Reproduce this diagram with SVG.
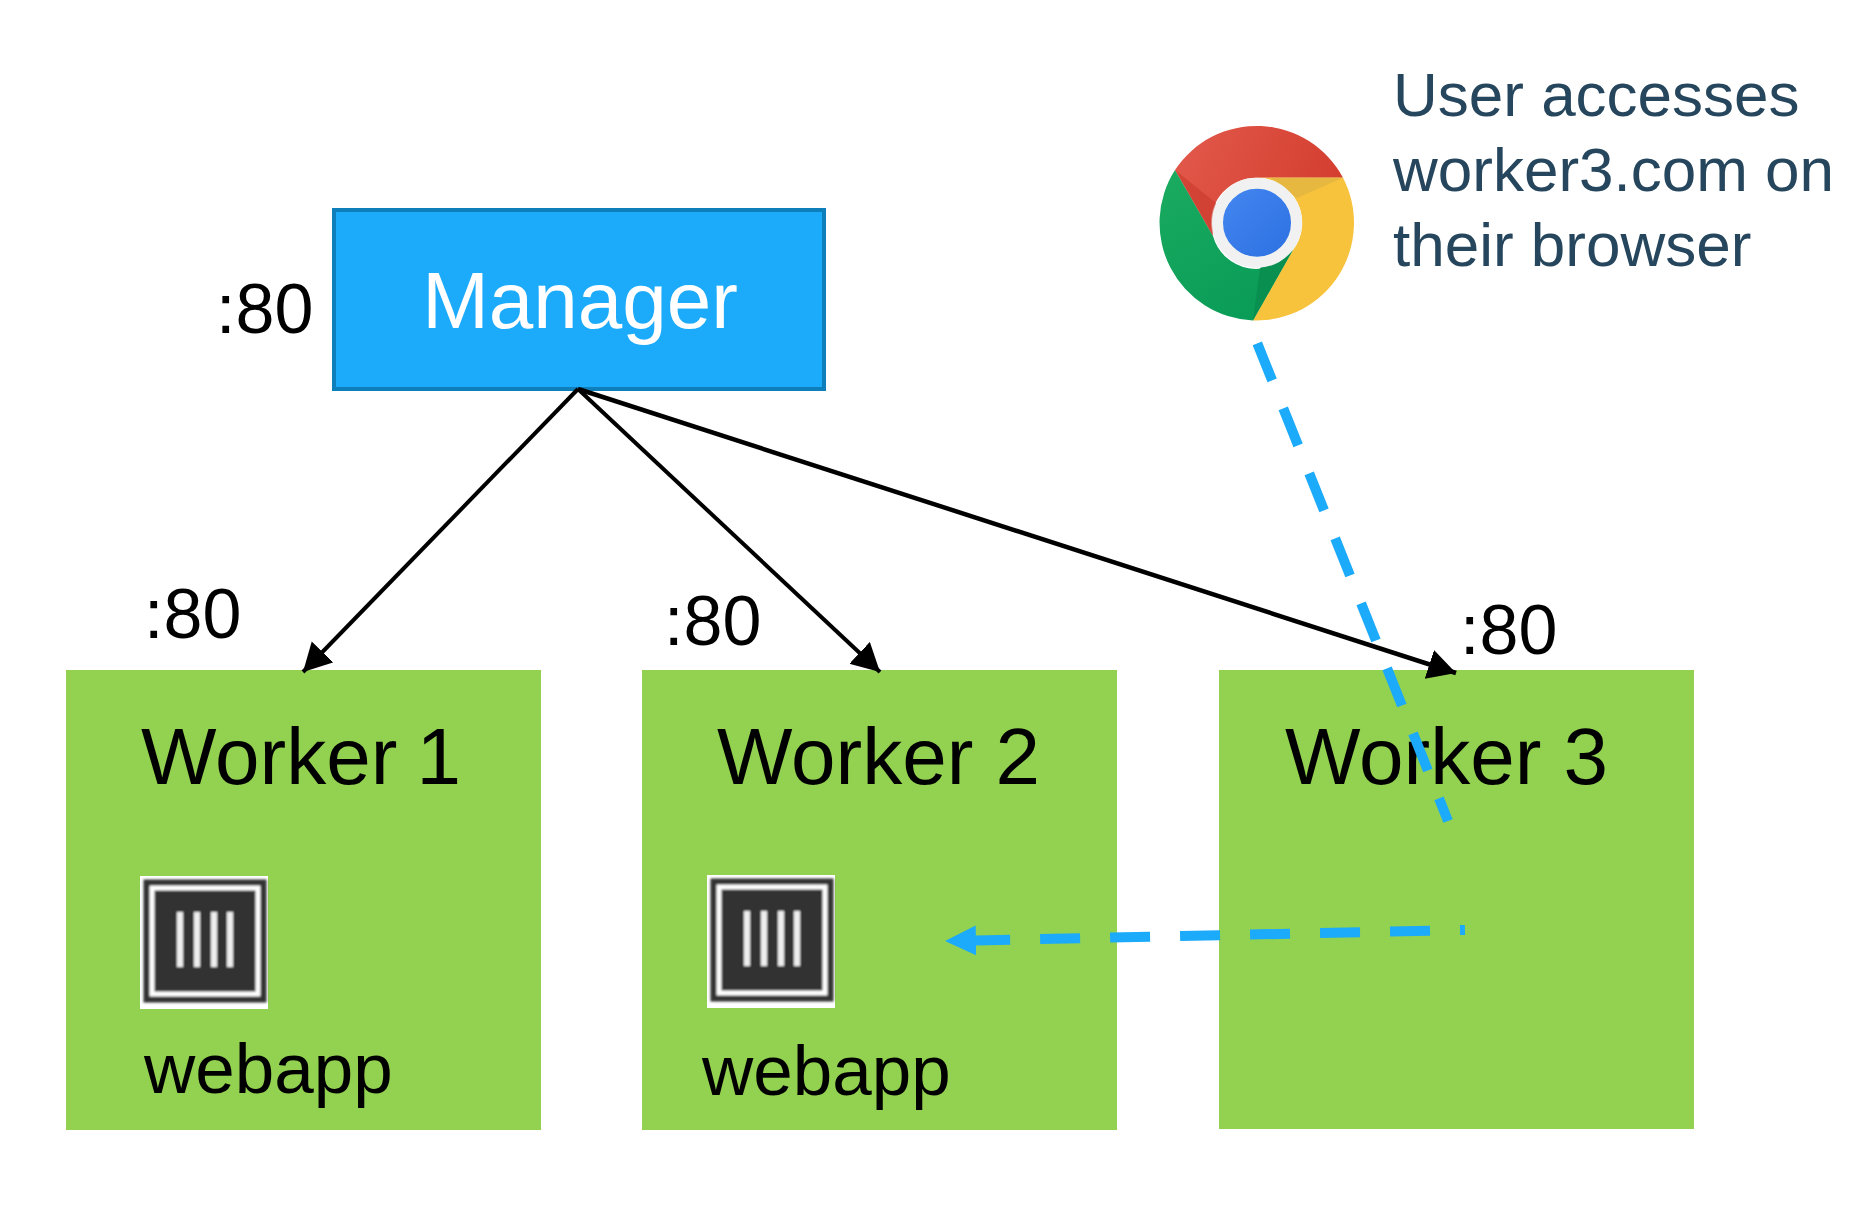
<svg xmlns="http://www.w3.org/2000/svg" width="1874" height="1216" viewBox="0 0 1874 1216">
<style>
text{font-family:"Liberation Sans",Arial,sans-serif;fill:#000}
.t80{font-size:80px}
.t70{font-size:70px}
.t71{font-size:71px}
.u{font-size:62px;fill:#26465d}
.worker{fill:#92d250}
.arrow{stroke:#000;stroke-width:4;fill:none;marker-end:url(#ah)}
.dash{stroke:#1caafa;stroke-width:10;fill:none;stroke-dasharray:40 30}
</style>
<defs>
<marker id="ah" markerUnits="userSpaceOnUse" markerWidth="32" markerHeight="32" refX="28" refY="15" orient="auto"><path d="M0 0L28 15L0 30Z" fill="#000"/></marker>
<marker id="bh" markerUnits="userSpaceOnUse" markerWidth="32" markerHeight="36" refX="0" refY="17" orient="auto"><path d="M0 2L31 17L0 32Z" fill="#1caafa"/></marker>
<filter id="soft" x="-5%" y="-5%" width="110%" height="110%"><feGaussianBlur stdDeviation="1"/></filter>
<linearGradient id="gr" x1="0" y1="0" x2="1" y2="0.3"><stop offset="0" stop-color="#e25a4c"/><stop offset="1" stop-color="#d43f30"/></linearGradient>
<linearGradient id="gg" x1="0" y1="0" x2="0.5" y2="1"><stop offset="0" stop-color="#1bab60"/><stop offset="1" stop-color="#0a9d58"/></linearGradient>
<linearGradient id="gb" x1="0" y1="0" x2="1" y2="1"><stop offset="0" stop-color="#4688f2"/><stop offset="1" stop-color="#2a6fe0"/></linearGradient>
<g id="box">
<rect x="0" y="0" width="128" height="133" fill="#fff"/>
<g filter="url(#soft)">
<rect x="3.500" y="3.500" width="123" height="123" fill="#333"/>
<rect x="12" y="12" width="106" height="106" fill="#333" stroke="#fff" stroke-width="5"/>
<rect x="37" y="36" width="6" height="55" fill="#eee"/><rect x="54" y="36" width="6" height="55" fill="#eee"/><rect x="71" y="36" width="6" height="55" fill="#eee"/><rect x="87" y="36" width="6" height="55" fill="#eee"/>
</g>
</g>
</defs>
<g id="manager"><rect x="334" y="210" width="490" height="179" fill="#1caafa" stroke="#0f7fbb" stroke-width="4"/><text class="t80" x="580" y="328" text-anchor="middle" style="fill:#fff">Manager</text><text class="t70" x="216" y="333">:80</text></g>
<g id="worker1"><rect class="worker" x="66" y="670" width="475" height="460"/><text class="t80" x="141" y="784">Worker <tspan dx="-3">1</tspan></text><text class="t70" x="144" y="638">:80</text><use href="#box" x="140" y="876"/><text class="t71" x="144" y="1093">webapp</text></g>
<g id="worker2"><rect class="worker" x="642" y="670" width="475" height="460"/><text class="t80" x="717" y="784">Worker 2</text><text class="t70" x="664" y="645">:80</text><use href="#box" x="707" y="875"/><text class="t71" x="702" y="1095">webapp</text></g>
<g id="worker3"><rect class="worker" x="1219" y="670" width="475" height="459"/><text class="t80" x="1285" y="784">Worker 3</text><text class="t70" x="1460" y="654">:80</text></g>
<g id="browser">
<path d="M1175 170A97.800 97.800 0 0 1 1343 177.700L1257 177.700A45 45 0 0 0 1213 236Z" fill="url(#gr)"/>
<path d="M1175 170L1213 236A45 45 0 0 0 1293 250L1253 320.500A97.800 97.800 0 0 1 1175 170Z" fill="url(#gg)"/>
<path d="M1343 177.700A97.800 97.800 0 0 1 1253 320.500L1293 250A45 45 0 0 0 1257 177.700Z" fill="#f8c33c"/>
<path d="M1175 170L1213 236L1216 203Z" fill="#c9392c" opacity=".6"/>
<path d="M1343 177.700L1297 198L1270 177.700Z" fill="#e6b83f"/>
<path d="M1253 320.500L1293 250L1260 268Z" fill="#098f4f"/>
<circle cx="1257" cy="222.700" r="39.500" fill="url(#gb)" stroke="#f1f1f1" stroke-width="11"/>
<text class="u" x="1393" y="116">User accesses</text><text class="u" x="1393" y="191">worker3.com on</text><text class="u" x="1393" y="266">their browser</text>
</g>
<g id="connectors">
<line class="arrow" x1="578" y1="389" x2="303" y2="672"/>
<line class="arrow" x1="578" y1="389" x2="880" y2="672"/>
<line class="arrow" x1="578" y1="389" x2="1456" y2="673" style="stroke-width:4.500"/>
<line class="dash" x1="1257.300" y1="343.300" x2="1448" y2="821"/>
<line class="dash" x1="1465" y1="930" x2="976" y2="940.400" stroke-dashoffset="35" marker-end="url(#bh)"/>
</g>
</svg>
